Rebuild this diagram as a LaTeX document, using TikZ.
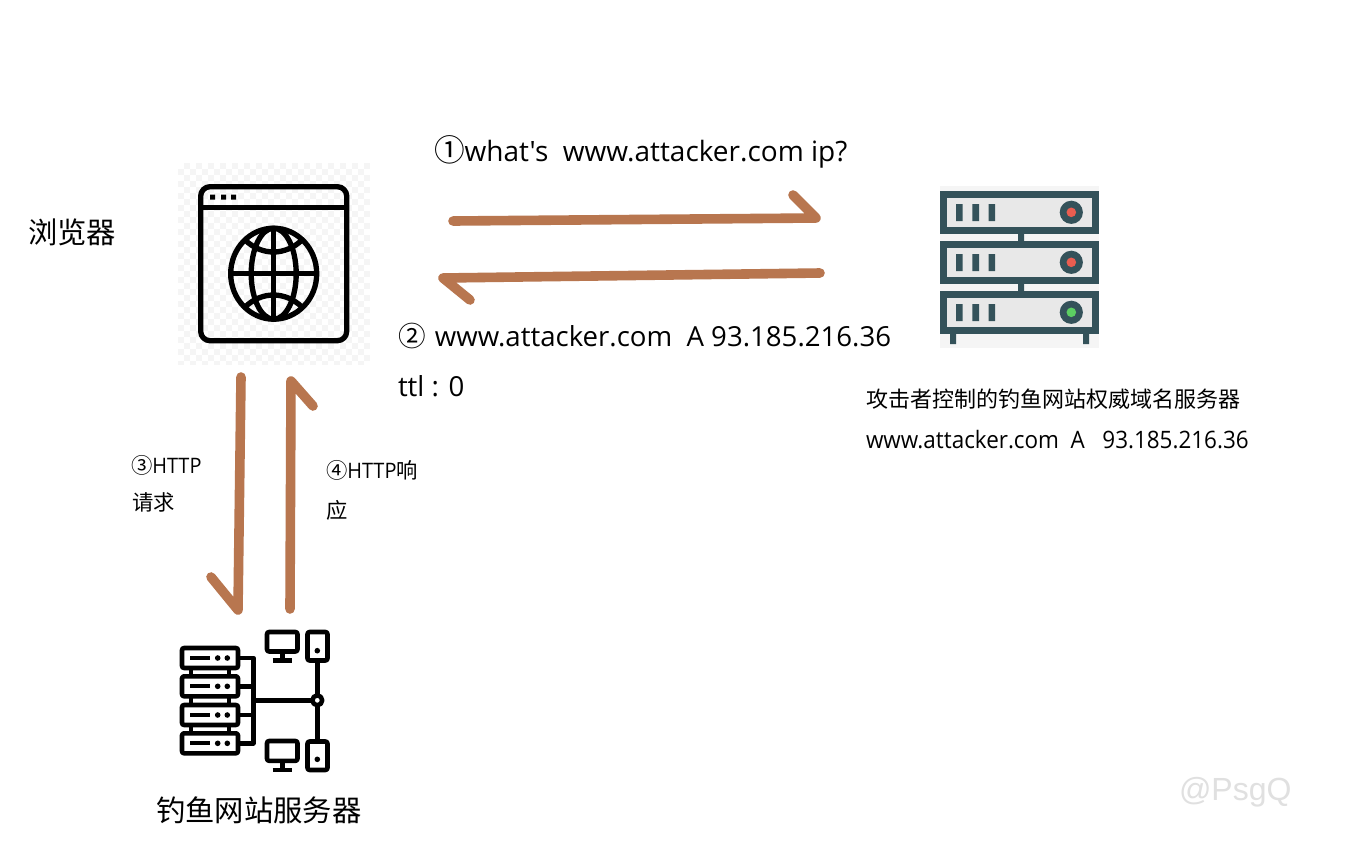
\documentclass[tikz,border=0pt]{standalone}
\usepackage{fontspec}
\setmainfont{Open Sans}
\newfontfamily\cjk{Noto Sans CJK SC}
\newfontfamily\wm{Liberation Sans}
\newfontfamily\plainf{Open Sans}
\newfontfamily\cond[FakeStretch=0.935]{Open Sans}
\definecolor{arrowc}{HTML}{B8764F}
\definecolor{srv}{HTML}{34525A}
\definecolor{srvf}{HTML}{E8E8E8}
\definecolor{srvb}{HTML}{F5F5F5}
\definecolor{lred}{HTML}{EA5D50}
\definecolor{lgreen}{HTML}{5CCF62}
\definecolor{chk}{HTML}{F5F5F5}
\tikzset{
  x=0.75pt,y=-0.75pt,
  flow/.style={draw=arrowc,line width=7.2pt,line cap=round,line join=round},
  lbl/.style={anchor=west,inner sep=0pt,outer sep=0pt,text=black},
  ic/.style={draw=black,line width=4pt,line join=round},
  icn/.style={draw=black,line width=3.4pt,line join=round},
  sv/.style={draw=srv,line width=4.9pt,fill=srvf},
}
\newcommand{\srvunit}[2]{%
  \draw[sv] (943.3,#1+3.3) rectangle (1095.7,#1+39.7);
  \fill[srv] (956,#1+13) rectangle (962.7,#1+30) (972.3,#1+13) rectangle (979,#1+30) (988.7,#1+13) rectangle (995,#1+30);
  \fill[srv] (1071.3,#1+21.3) circle[radius=8.7pt];
  \fill[#2] (1071.3,#1+21.3) circle[radius=3.6pt];
}
\newcommand{\netunit}[1]{%
  \draw[icn,fill=white,rounded corners=1.5pt] (182,#1-10) rectangle (238,#1+10);
  \draw[black,line width=3.2pt] (190,#1) -- (210,#1);
  \fill[black] (217.7,#1) circle[radius=2.1pt] (227.3,#1) circle[radius=2.1pt];
}
\begin{document}
\begin{tikzpicture}
\useasboundingbox (0,0) rectangle (1350,840);
\fill[white] (0,0) rectangle (1350,840);
% browser icon
\begin{scope}
\clip (178,163) rectangle (370,364);
\foreach \i in {0,...,31}{\foreach \j in {0,...,33}{%
  \ifodd\numexpr\i+\j\relax
    \fill[chk] (178+\i*6,163+\j*6) rectangle (184+\i*6,169+\j*6);
  \fi}}
\end{scope}
\draw[ic,rounded corners=7pt] (200.7,186.7) rectangle (346.7,340.7);
\draw[ic] (200.7,207.5) -- (346.7,207.5);
\fill[black] (210,194.5) rectangle (215,199.5) (221,194.5) rectangle (226,199.5) (231,194.5) rectangle (236,199.5);
\draw[ic] (273.7,273.7) ellipse[x radius=43,y radius=45.5];
\draw[ic] (273.7,273.7) ellipse[x radius=22.5,y radius=45.5];
\draw[ic] (273.7,228.2) -- (273.7,319.2);
\draw[ic] (230.7,273.7) -- (316.7,273.7);
\draw[ic] (245,240) .. controls (262,256) and (285,256) .. (302,240);
\draw[ic] (245,307) .. controls (262,291) and (285,291) .. (302,307);
% dns server icon
\fill[srvb] (940,186) rectangle (1099,348);
\fill[srv] (1018,234) rectangle (1024,241) (1018,284) rectangle (1024,291);
\fill[srv] (950,334) rectangle (956,344) (1083,334) rectangle (1089,344);
\srvunit{191}{lred}
\srvunit{241}{lred}
\srvunit{291}{lgreen}
% phishing web server icon
\draw[black,line width=3pt] (191,668) -- (191,736) (229,668) -- (229,736);
\netunit{658}
\netunit{686.3}
\netunit{715}
\netunit{743.3}
\draw[icn] (240,658) -| (253.3,743.3) -- (240,743.3);
\draw[icn] (240,686.3) -- (253.3,686.3) (240,715) -- (253.3,715);
\coordinate (hub) at (317.3,700.3);
\draw[icn] (253.3,700.3) -- (hub);
\draw[icn] (317.3,662) -- (317.3,739.5);
\draw[icn,fill=white] (hub) circle[radius=3.7pt];
\draw[icn,rounded corners=1.5pt] (307.5,632) rectangle (327.5,660.5);
\fill[black] (317.3,650.7) circle[radius=2.1pt];
\draw[icn,rounded corners=1.5pt] (307.5,741.5) rectangle (327.5,770);
\fill[black] (317.3,759.3) circle[radius=2.1pt];
\draw[icn,rounded corners=1.5pt] (267,632) rectangle (297.5,651.5);
\draw[icn] (282.3,651.5) -- (282.3,660.7) (272.7,660.7) -- (292.3,660.7);
\draw[icn,rounded corners=1.5pt] (267,741) rectangle (297.5,760.8);
\draw[icn] (282.3,760.8) -- (282.3,770) (272.7,770) -- (292.3,770);
% arrows
\coordinate (a1s) at (453,221); \coordinate (a1e) at (816,218); \coordinate (a1h) at (793,195);
\coordinate (a2s) at (820,273); \coordinate (a2e) at (443,278); \coordinate (a2h) at (470,300);
\coordinate (a3s) at (241,377); \coordinate (a3e) at (238,610); \coordinate (a3h) at (211,577);
\coordinate (a4s) at (290,609); \coordinate (a4e) at (291,381); \coordinate (a4h) at (313,406);
\draw[flow] (a1s) -- (a1e) -- (a1h);
\draw[flow] (a2s) -- (a2e) -- (a2h);
\draw[flow] (a3s) -- (a3e) -- (a3h);
\draw[flow] (a4s) -- (a4e) -- (a4h);
% labels
\node[lbl,font=\fontsize{21}{25}\selectfont\plainf] (t1) at (434,152) {{\cjk\fontsize{23}{25}\selectfont ①}what's\ \ www.attacker.com ip?};
\node[lbl,font=\fontsize{20.7}{25}\selectfont] (t2) at (398,336) {{\cjk ②}\,\,www.attacker.com\ \ A 93.185.216.36};
\node[lbl,font=\fontsize{20.7}{25}\selectfont] (t3) at (398,386) {ttl : 0};
\node[lbl,font=\fontsize{22}{26}\selectfont\cjk] (t4) at (28,232) {浏览器};
\node[lbl,font=\fontsize{16}{19}\selectfont\cond] (t5) at (131,465) {{\cjk ③}HTTP};
\node[lbl,font=\fontsize{16}{19}\selectfont\cjk] (t6) at (132,502) {请求};
\node[lbl,font=\fontsize{16}{19}\selectfont\cond] (t7) at (326,470) {{\cjk ④}HTTP{\cjk 响}};
\node[lbl,font=\fontsize{16}{19}\selectfont\cjk] (t8) at (326,510) {应};
\node[lbl,font=\fontsize{22}{26}\selectfont\cjk] (t9) at (156,810) {钓鱼网站服务器};
\node[lbl,font=\fontsize{16.5}{20}\selectfont\cjk] (t10) at (866,399) {攻击者控制的钓鱼网站权威域名服务器};
\node[lbl,font=\fontsize{18}{22}\selectfont\cond] (t11) at (866,440) {www.attacker.com\ \ A\ \ \ 93.185.216.36};
\node[lbl,text=black!12,font=\fontsize{24}{30}\selectfont\wm] (t12) at (1179,792) {@PsgQ};
\end{tikzpicture}
\end{document}
